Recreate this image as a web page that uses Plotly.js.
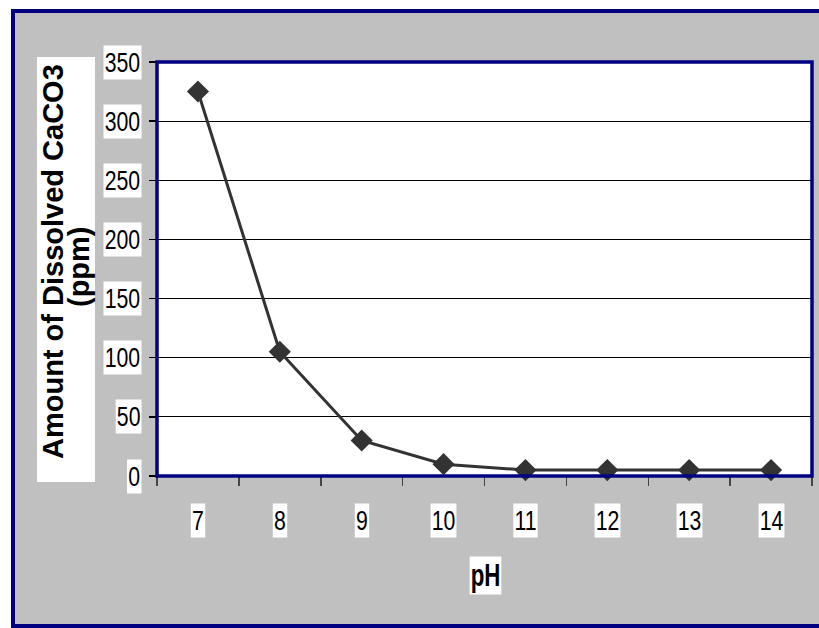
<!DOCTYPE html>
<html>
<head>
<meta charset="utf-8">
<script src="https://cdn.plot.ly/plotly-3.0.1.min.js"></script>
<style>html,body{margin:0;padding:0;background:#fff;}#chart{width:819px;height:628px;}</style>
</head>
<body>
<div id="chart"></div>
<script>
// Dissolved calcium carbonate versus pH
const phValues = [7, 8, 9, 10, 11, 12, 13, 14];
const caco3Ppm = [325, 105, 30, 10, 5, 5, 5, 5];
const yTickValues = [0, 50, 100, 150, 200, 250, 300, 350];
const yTickLabels = ['0', '50', '100', '150', '200', '250', '300', '350'];
const xTickLabels = ['7', '8', '9', '10', '11', '12', '13', '14'];
const yTitleLines = ['Amount of Dissolved CaCO3', '(ppm)'];
const xTitle = 'pH';

const W = 819, H = 628;
const M = {l: 157, r: 7, t: 62, b: 152};
const PW = W - M.l - M.r, PH = H - M.t - M.b;
const px = x => (x - M.l) / PW;      // pixel column -> paper x
const py = y => (H - M.b - y) / PH;  // pixel row -> paper y

const NAVY = '#000080';
const tickFont = {family: 'Liberation Sans, Arial', size: 28, color: '#000'};
const titleFont = {family: 'Liberation Sans, Arial', size: 29, color: '#000', weight: 'bold'};

const annotations = [];
yTickValues.forEach((v, i) => annotations.push({
  xref: 'paper', yref: 'y', x: 0, y: v, xanchor: 'right', yanchor: 'middle',
  xshift: -15, text: yTickLabels[i], showarrow: false, font: tickFont,
  bgcolor: '#fff', borderpad: 1
}));
phValues.forEach((v, i) => annotations.push({
  xref: 'x', yref: 'paper', x: v, y: py(520), xanchor: 'center', yanchor: 'middle',
  text: xTickLabels[i], showarrow: false, font: tickFont, bgcolor: '#fff', borderpad: 1
}));
annotations.push({
  xref: 'paper', yref: 'paper', x: px(485), y: py(575), xanchor: 'center', yanchor: 'middle',
  text: xTitle, showarrow: false,
  font: {family: tickFont.family, size: 31, color: '#000', weight: 'bold'},
  bgcolor: '#fff', borderpad: 1
});
annotations.push({
  xref: 'paper', yref: 'paper', x: px(53), y: py(262), xanchor: 'center', yanchor: 'middle',
  text: yTitleLines[0], textangle: -90, showarrow: false, font: titleFont
});
annotations.push({
  xref: 'paper', yref: 'paper', x: px(79), y: py(267), xanchor: 'center', yanchor: 'middle',
  text: yTitleLines[1], textangle: -90, showarrow: false, font: titleFont
});

const shapes = [
  // chart area: grey fill with navy frame
  {type: 'rect', xref: 'paper', yref: 'paper', x0: px(13), x1: px(830), y0: py(626), y1: py(11),
   fillcolor: '#c0c0c0', line: {color: NAVY, width: 4}, layer: 'below'},
  // white plot area
  {type: 'rect', xref: 'paper', yref: 'paper', x0: 0, x1: 1, y0: 0, y1: 1,
   fillcolor: '#fff', line: {width: 0}, layer: 'below'},
  // white backing behind the y-axis title
  {type: 'rect', xref: 'paper', yref: 'paper', x0: px(37), x1: px(95), y0: py(482), y1: py(57),
   fillcolor: '#fff', line: {width: 0}, layer: 'below'},
  // navy plot frame
  {type: 'rect', xref: 'paper', yref: 'paper', x0: 0, x1: 1, y0: 0, y1: 1,
   line: {color: NAVY, width: 3.5}, layer: 'above'}
];

const trace = {
  x: phValues, y: caco3Ppm, type: 'scatter', mode: 'lines+markers',
  line: {color: '#333333', width: 3},
  marker: {symbol: 'diamond', size: 17, color: '#333333'},
  hoverinfo: 'skip', cliponaxis: false
};

const layout = {
  width: W, height: H, margin: M,
  paper_bgcolor: '#fff', plot_bgcolor: 'rgba(0,0,0,0)',
  showlegend: false,
  xaxis: {
    range: [6.5, 14.5], tickmode: 'array',
    tickvals: [6.5, 7.5, 8.5, 9.5, 10.5, 11.5, 12.5, 13.5, 14.5],
    showticklabels: false, ticks: 'outside', ticklen: 9, tickwidth: 1.5, tickcolor: '#444',
    showgrid: false, zeroline: false, showline: false, fixedrange: true
  },
  yaxis: {
    range: [0, 350], tickmode: 'array', tickvals: yTickValues,
    showticklabels: false, ticks: 'outside', ticklen: 7, tickwidth: 1.5, tickcolor: '#000',
    showgrid: true, gridcolor: '#000', gridwidth: 1, zeroline: false, showline: false, fixedrange: true
  },
  shapes: shapes,
  annotations: annotations
};

// Narrow the tick-label and x-title boxes horizontally (condensed type look)
function condense(gd) {
  const nY = yTickLabels.length, nX = xTickLabels.length;
  gd.querySelectorAll('.annotation').forEach(g => {
    const i = +g.getAttribute('data-index');
    if (i > nY + nX) return;
    g.style.transformBox = 'fill-box';
    g.style.transformOrigin = i < nY ? 'right center' : 'center center';
    g.style.transform = i === nY + nX ? 'scaleX(0.72)' : 'scaleX(0.76)';
  });
}

Plotly.newPlot('chart', [trace], layout, {staticPlot: true, displayModeBar: false}).then(condense);
</script>
</body>
</html>
